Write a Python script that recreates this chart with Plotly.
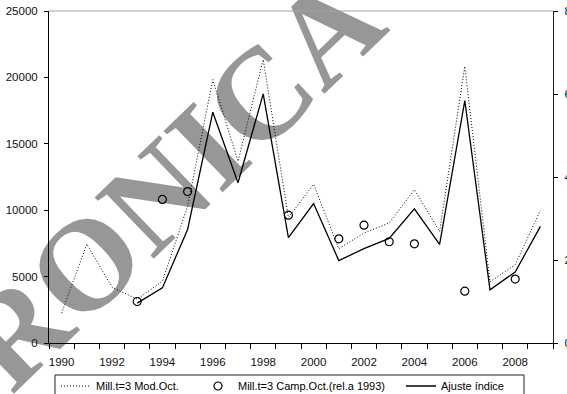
import plotly.graph_objects as go

# Years on the category axis
years = list(range(1990, 2010))

# Mill.t=3 Mod.Oct. (left axis)
mod_oct = [2250, 7450, 4200, 3300, 4650, 10300, 19830, 13680, 21340, 9450,
           11950, 7100, 8280, 9040, 11550, 8400, 20830, 4600, 5900, 9990]

# Mill.t=3 Camp.Oct. relative to 1993 (right axis)
camp_oct = [None, None, None, 1.00, 3.46, 3.65, None, None, None, 3.08,
            None, 2.51, 2.84, 2.44, 2.39, None, 1.25, None, 1.54, None]

# Ajuste indice (left axis)
ajuste = [None, None, None, 3000, 4150, 8550, 17380, 12070, 18760, 7930,
          10500, 6210, 7100, 7880, 10100, 7420, 18250, 4000, 5350, 8780]

left_ticks = [0, 5000, 10000, 15000, 20000, 25000]
right_ticks = [0, 2, 4, 6, 8]
year_labels = list(range(1990, 2010, 2))

W, H = 567, 394
L, R, T, B = 49, 14, 11, 51
font_main = "Liberation Sans, Arial, sans-serif"

fig = go.Figure()

fig.add_trace(go.Scatter(
    x=years, y=mod_oct, mode="lines", name="Mill.t=3 Mod.Oct.",
    line=dict(color="black", width=1, dash="1px,2px"),
    legend="legend",
))
fig.add_trace(go.Scatter(
    x=years, y=camp_oct, mode="markers", name="Mill.t=3 Camp.Oct.(rel.a 1993)",
    marker=dict(symbol="circle-open", size=8, color="black", line=dict(width=1.2)),
    yaxis="y2", legend="legend2",
))
fig.add_trace(go.Scatter(
    x=years, y=ajuste, mode="lines", name="Ajuste índice",
    line=dict(color="black", width=1.3),
    connectgaps=False, legend="legend3",
))

def px_x(p):
    return (p - L) / (W - L - R)

def px_y(p):
    return (H - B - p) / (H - T - B)

shapes = [
    # light top border of the plot area
    dict(type="line", xref="paper", yref="paper", x0=0, x1=1, y0=1, y1=1,
         line=dict(color="#a0a0a0", width=1)),
    # legend frame
    dict(type="rect", xref="paper", yref="paper",
         x0=px_x(55), x1=px_x(524), y0=px_y(375), y1=px_y(402),
         line=dict(color="#222222", width=1), fillcolor="rgba(0,0,0,0)"),
    # watermark text behind the data
    dict(type="rect", xref="paper", yref="paper", layer="below",
         x0=px_x(159), x1=px_x(163), y0=px_y(173), y1=px_y(169),
         line=dict(width=0), fillcolor="rgba(0,0,0,0)",
         label=dict(text="<b>RONICA</b>", textangle=-44, textposition="middle center",
                    font=dict(family="Liberation Serif, Times New Roman, serif",
                              size=130, color="#979797"))),
]

legend_common = dict(
    xref="container", yref="container", xanchor="left", yanchor="middle",
    y=1 - 386 / H, bgcolor="rgba(0,0,0,0)", borderwidth=0,
    font=dict(family=font_main, size=11, color="black"),
    orientation="v",
)

tick_font = dict(family=font_main, size=11.5, color="#111111")

fig.update_layout(
    width=W, height=H,
    margin=dict(l=L, r=R, t=T, b=B, autoexpand=False),
    paper_bgcolor="white", plot_bgcolor="white",
    showlegend=True,
    legend=dict(x=56 / W, **legend_common),
    legend2=dict(x=198 / W, **legend_common),
    legend3=dict(x=401 / W, **legend_common),
    shapes=shapes,
    xaxis=dict(
        range=[1989.5, 2009.5], tickmode="array", tickvals=year_labels,
        ticktext=[str(v) for v in year_labels],
        ticks="outside", ticklen=5, tickcolor="rgba(0,0,0,0)",
        ticklabelstandoff=3,
        minor=dict(tickmode="array", tickvals=[y - 0.5 for y in years] + [2009.5],
                   ticks="outside", ticklen=5, tickcolor="black", tickwidth=1),
        showline=True, linecolor="black", linewidth=1,
        showgrid=False, zeroline=False,
        tickfont=tick_font,
    ),
    yaxis=dict(
        range=[0, 25000], tickmode="array", tickvals=left_ticks,
        ticktext=[str(v) for v in left_ticks],
        ticks="outside", ticklen=4, tickcolor="black",
        ticklabelstandoff=4,
        showline=True, linecolor="black", linewidth=1,
        showgrid=False, zeroline=False,
        tickfont=tick_font,
    ),
    yaxis2=dict(
        range=[0, 8], tickmode="array", tickvals=right_ticks,
        ticktext=[str(v) for v in right_ticks],
        overlaying="y", side="right",
        ticks="outside", ticklen=4, tickcolor="black",
        ticklabelstandoff=4,
        showline=True, linecolor="#222222", linewidth=1.2,
        showgrid=False, zeroline=False,
        tickfont=tick_font,
    ),
)

fig.write_html("out.html")
